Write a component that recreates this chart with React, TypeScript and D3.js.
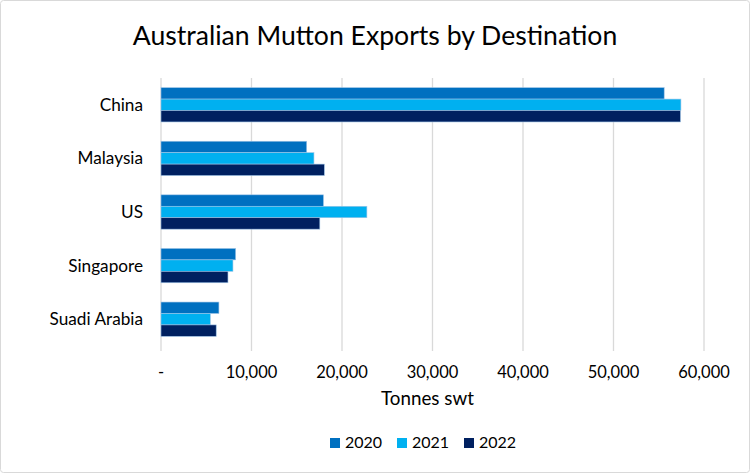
import React from "react";
import * as d3 from "d3";

const categories = ["China", "Malaysia", "US", "Singapore", "Suadi Arabia"];
const seriesNames = ["2020", "2021", "2022"];
const values2020 = [55600, 16100, 17950, 8250, 6400];
const values2021 = [57450, 16900, 22750, 7950, 5450];
const values2022 = [57400, 18050, 17550, 7400, 6100];
const xTicks = [0, 10000, 20000, 30000, 40000, 50000, 60000];
const colors = ["#0070C0", "#00B0F0", "#002060"];

const W = 750;
const H = 473;
const FONT = "Lato, 'Open Sans', sans-serif";

export default function App() {
  const series = [values2020, values2021, values2022];
  const x = d3.scaleLinear().domain([0, 60000]).range([161, 704]);
  const y = d3.scaleBand().domain(categories).range([78, 346]).paddingInner(0.36).paddingOuter(0.18);
  const inner = d3.scaleBand().domain(seriesNames).range([0, y.bandwidth()]);
  const fmt = (v: number) => (v === 0 ? "-" : d3.format(",")(v));

  const legendX = [330, 397, 464];
  return (
    <svg width={W} height={H} style={{ position: "absolute", left: 0, top: 0 }} fontFamily={FONT}>
      <rect x={0.5} y={0.5} width={W - 1} height={H - 1} fill="#fff" stroke="#D9D9D9" rx={3} />
      <text x={375} y={45} textAnchor="middle" fontSize={26.6} fill="#000">
        Australian Mutton Exports by Destination
      </text>
      {xTicks.map((t) => (
        <line key={t} x1={x(t)} x2={x(t)} y1={78} y2={351} stroke="#D9D9D9" strokeWidth={1.3} />
      ))}
      {categories.map((c, ci) => (
        <g key={c}>
          {series.map((s, si) => (
            <rect
              key={si}
              x={x(0)}
              y={(y(c) as number) + (inner(seriesNames[si]) as number)}
              width={x(s[ci]) - x(0)}
              height={inner.bandwidth()}
              fill={colors[si]}
              stroke="#9DC3E6"
              strokeWidth={0.6}
            />
          ))}
          <text x={143} y={(y(c) as number) + y.bandwidth() / 2 + 6} textAnchor="end" fontSize={17.2} fill="#000">
            {c}
          </text>
        </g>
      ))}
      {xTicks.map((t) => (
        <text key={t} x={x(t)} y={378} textAnchor="middle" fontSize={16.5} fill="#000">
          {fmt(t)}
        </text>
      ))}
      <text x={427.5} y={405} textAnchor="middle" fontSize={18.8} fill="#000">
        Tonnes swt
      </text>
      {seriesNames.map((n, i) => (
        <g key={n}>
          <rect x={legendX[i]} y={438} width={10} height={10} fill={colors[i]} />
          <text x={legendX[i] + 15} y={447.5} fontSize={16} fill="#000">
            {n}
          </text>
        </g>
      ))}
    </svg>
  );
}
